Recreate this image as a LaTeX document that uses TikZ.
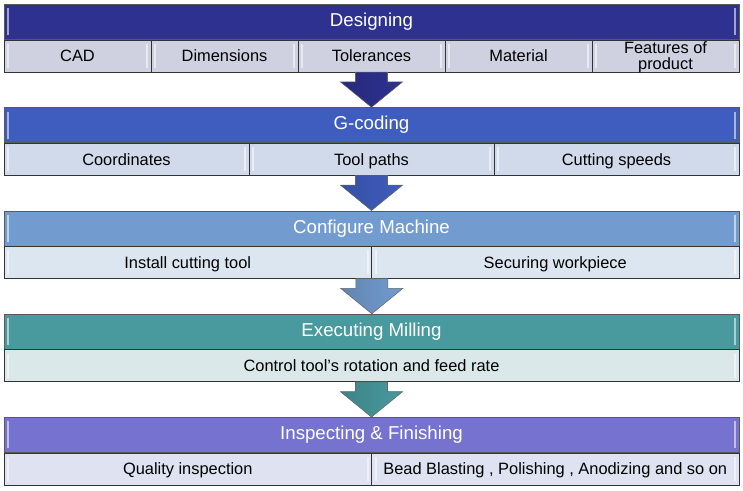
\documentclass[tikz,border=0pt]{standalone}
\usepackage{fontspec}
\setmainfont{Liberation Sans}
\usetikzlibrary{positioning, calc}

\definecolor{designhead}{HTML}{2E3190}
\definecolor{designcell}{HTML}{CFD1E0}
\definecolor{gcodehead}{HTML}{3F5DBE}
\definecolor{gcodecell}{HTML}{D1DAEA}
\definecolor{confhead}{HTML}{729CCF}
\definecolor{confcell}{HTML}{DCE6F1}
\definecolor{millhead}{HTML}{489A9E}
\definecolor{millcell}{HTML}{DAE8E9}
\definecolor{inspecthead}{HTML}{7672D0}
\definecolor{inspectcell}{HTML}{DEE2F1}

\tikzset{
  bevel/.style={path picture={
    \draw[white, opacity=0.55, line width=1.5pt]
      ([xshift=3pt,yshift=-3pt]path picture bounding box.north west) -- ([xshift=3pt,yshift=3pt]path picture bounding box.south west);
    \draw[white, opacity=0.55, line width=1.5pt]
      ([xshift=-3pt,yshift=-3pt]path picture bounding box.north east) -- ([xshift=-3pt,yshift=3pt]path picture bounding box.south east);}},
  head/.style={draw=black!65, fill=#1, bevel, minimum width=551.25pt, minimum height=26.25pt,
    inner sep=0pt, text=white, font=\fontsize{14}{16}\selectfont},
  cell/.style={draw=black!80, fill=#1, bevel, minimum height=24pt, inner sep=0pt,
    text height=9pt, text depth=0pt, font=\fontsize{12.3}{10.5}\selectfont},
  flow/.style={draw=black!60, line width=0.4pt, left color=#1!85!black, middle color=#1!55!white, right color=#1}
}

% block arrow from the bottom of one row to the top of the next header
\newcommand{\flowarrow}[3]{%
  \path[flow=#3] let \p1=(#1), \p2=(#2) in
    (\x1-12pt,\y1) -- (\x1+12pt,\y1) -- (\x1+12pt,\y2+19pt) -- (\x1+23.25pt,\y2+19pt)
    -- (\x1,\y2) -- (\x1-23.25pt,\y2+19pt) -- (\x1-12pt,\y2+19pt) -- cycle;
}

\begin{document}
\begin{tikzpicture}[x=0.75pt, y=-0.75pt]
  \useasboundingbox (0,0) rectangle (743,490);

  % Designing
  \node[head=designhead, anchor=north] (design) at (371.5,4) {Designing};
  \foreach \txt [count=\i from 0] in {CAD, Dimensions, Tolerances, Material,
      {\begin{tabular}{@{}c@{}}Features of\\product\end{tabular}}}
    \node[cell=designcell, minimum width=110.25pt, anchor=north west] (design-\i)
      at ([xshift=\i*110.25pt]design.south west) {\txt};

  % G-coding
  \node[head=gcodehead, below=50.8pt of design] (gcode) {G-coding};
  \foreach \txt [count=\i from 0] in {Coordinates, Tool paths, Cutting speeds}
    \node[cell=gcodecell, minimum width=183.75pt, anchor=north west] (gcode-\i)
      at ([xshift=\i*183.75pt]gcode.south west) {\txt};

  % Configure Machine
  \node[head=confhead, below=50.8pt of gcode] (config) {Configure Machine};
  \foreach \txt [count=\i from 0] in {Install cutting tool, Securing workpiece}
    \node[cell=confcell, minimum width=275.625pt, anchor=north west] (config-\i)
      at ([xshift=\i*275.625pt]config.south west) {\txt};

  % Executing Milling
  \node[head=millhead, below=50.8pt of config] (mill) {Executing Milling};
  \node[cell=millcell, minimum width=551.25pt, anchor=north] (mill-0) at (mill.south)
    {Control tool's rotation and feed rate};

  % Inspecting & Finishing
  \node[head=inspecthead, below=50.8pt of mill] (inspect) {Inspecting \& Finishing};
  \foreach \txt [count=\i from 0] in {Quality inspection, {Bead Blasting , Polishing , Anodizing and so on}}
    \node[cell=inspectcell, minimum width=275.625pt, anchor=north west] (inspect-\i)
      at ([xshift=\i*275.625pt]inspect.south west) {\txt};

  % arrows
  \flowarrow{design-2.south}{gcode.north}{designhead}
  \flowarrow{gcode-1.south}{config.north}{gcodehead}
  \flowarrow{config-0.south east}{mill.north}{confhead}
  \flowarrow{mill-0.south}{inspect.north}{millhead}
\end{tikzpicture}
\end{document}
